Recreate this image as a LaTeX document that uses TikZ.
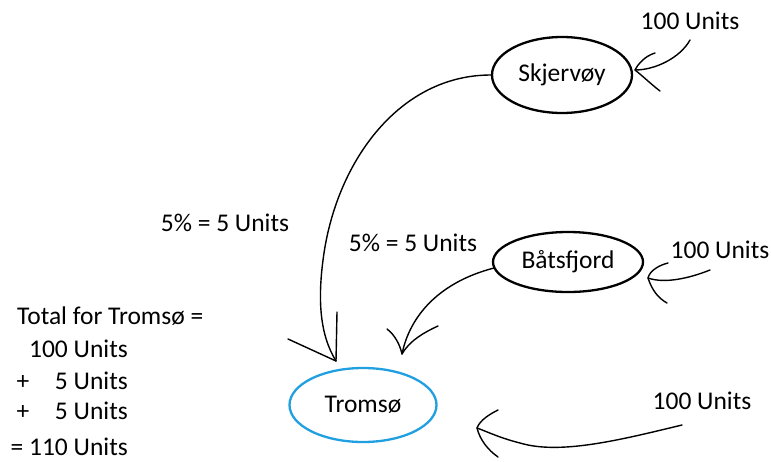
\documentclass[tikz,border=0pt]{standalone}
\usepackage{fontspec}
\setmainfont{Carlito}
\usetikzlibrary{shapes.geometric}
\definecolor{tblue}{RGB}{32,160,225}
\tikzset{
  hand/.style={line width=1.4pt, black, line cap=round, line join=round},
  city/.style={ellipse, draw, line width=2.3pt, inner sep=0pt, font=\fontsize{25.5}{30}\selectfont},
  txt/.style={inner sep=0pt, font=\fontsize{25.5}{30}\selectfont}
}
\begin{document}
\begin{tikzpicture}[x=1pt,y=-1pt]
\useasboundingbox (0,0) rectangle (771,461);
% cities
\node[city, minimum width=140pt, minimum height=76pt] (skj) at (562,75) {Skjervøy};
\node[city, minimum width=150pt, minimum height=60pt] (bat) at (568,262) {Båtsfjord};
\node[city, draw=tblue, minimum width=147pt, minimum height=74pt] (tro) at (363,405) {Tromsø};
% labels
\node[txt] (in1) at (690,21) {100 Units};
\node[txt] (in2) at (720,250) {100 Units};
\node[txt] (in3) at (702,401) {100 Units};
\node[txt] (p1) at (225,223) {5\% = 5 Units};
\node[txt] (p2) at (413,243) {5\% = 5 Units};
% totals
\node[txt, anchor=west] (t0) at (17,316) {Total for Tromsø =};
\node[txt, anchor=east] (t1) at (128,349) {100 Units};
\node[txt] (t2p) at (23,382) {+};
\node[txt, anchor=east] (t2) at (128,381) {5 Units};
\node[txt] (t3p) at (23,412) {+};
\node[txt, anchor=east] (t3) at (128,411) {5 Units};
\node[txt, anchor=east] (t4) at (128,447) {= 110 Units};
% connector coordinates
\coordinate (tipA) at (336,361);
\coordinate (tipB) at (402,354);
\coordinate (s1) at (690,40);
\coordinate (tip1) at (635,70);
\coordinate (s2) at (710,270);
\coordinate (tip2) at (648,278);
\coordinate (s3) at (682,425);
\coordinate (tip3) at (477,428);
% Skjervoy -> Tromso
\draw[hand] (skj.west) .. controls (400,75) and (338,160) .. (324,253)
   .. controls (317,300) and (320,335) .. (tipA);
\draw[hand] (288,339) -- (tipA) -- (337,312);
% Batsfjord -> Tromso
\draw[hand] (494,268) .. controls (440,282) and (410,315) .. (tipB);
\draw[hand] (387,329) .. controls (395,335) and (400,345) .. (tipB) .. controls (410,340) and (425,332) .. (438,326);
% incoming to Skjervoy
\draw[hand] (s1) .. controls (680,58) and (655,70) .. (tip1);
\draw[hand] (655,53) .. controls (645,56) and (638,64) .. (tip1) .. controls (645,78) and (652,85) .. (660,91);
% incoming to Batsfjord
\draw[hand] (s2) .. controls (690,278) and (665,284) .. (tip2);
\draw[hand] (668,263) .. controls (660,265) and (650,270) .. (tip2) .. controls (652,290) and (658,298) .. (667,303);
% incoming to Tromso
\draw[hand] (s3) .. controls (620,440) and (560,455) .. (520,443) .. controls (500,438) and (488,432) .. (tip3);
\draw[hand] (498,410) .. controls (490,414) and (480,420) .. (tip3) .. controls (480,440) and (488,450) .. (498,457);
\end{tikzpicture}
\end{document}
